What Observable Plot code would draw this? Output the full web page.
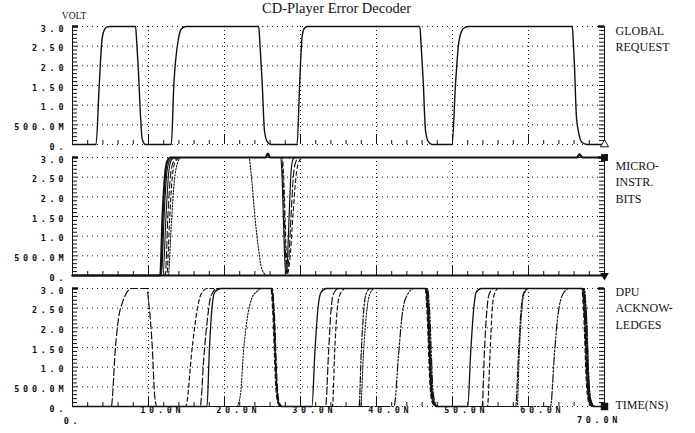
<!DOCTYPE html>
<html><head><meta charset="utf-8">
<script src="https://cdn.jsdelivr.net/npm/d3@7"></script>
<script src="https://cdn.jsdelivr.net/npm/@observablehq/plot@0.6"></script>
<style>
body{margin:0;background:#fff;}
#chart svg{display:block;}
</style></head><body><div id="chart"></div>
<script>
// ---- categories / labels ----
const panels = ["GR", "MI", "DPU"];
const panelLabels = ["GLOBAL\nREQUEST", "MICRO-\nINSTR.\nBITS", "DPU\nACKNOW-\nLEDGES"];
const titleText = "CD-Player Error Decoder";
const yUnit = "VOLT";
const xUnit = "TIME(NS)";
const yTicks = [0, 0.5, 1, 1.5, 2, 2.5, 3];
const yTickLabels = ["0.", "500.0M", "1.0", "1.50", "2.0", "2.50", "3.0"];
const xGridTicks = [10, 20, 30, 40, 50, 60];
const xTickLabels = ["10.0N", "20.0N", "30.0N", "40.0N", "50.0N", "60.0N"];
const xEndTicks = [0, 70];
const xEndLabels = ["0.", "70.0N"];

// ---- series: [time ns, volts] ----
const globalRequest = [[0,0],[3.1,0],[3.5,1.45],[3.9,2.7],[4.2,2.92],[4.6,2.99],[5.0,3.0],[8.3,3.0],[8.45,2.6],[8.65,1.95],[8.95,0.72],[9.17,0.14],[9.6,0],[13.0,0],[13.33,1.5],[13.95,2.7],[14.3,2.93],[14.9,3.0],[24.5,3.0],[24.65,2.6],[24.95,1.6],[25.26,0.35],[25.6,0.08],[26.1,0],[29.55,0],[29.9,1.6],[30.22,2.75],[30.5,2.95],[30.9,3.0],[45.7,3.0],[45.85,2.6],[46.15,1.6],[46.45,0.35],[46.8,0.08],[47.3,0],[49.95,0],[50.4,1.55],[50.8,2.55],[51.2,2.88],[51.6,2.97],[52.1,3.0],[65.75,3.0],[65.9,2.6],[66.05,2.0],[66.3,0.72],[66.6,0.3],[67.05,0.05],[67.7,0],[70,0]];

const microLow = [[0,0],[70,0]];
const micro1 = [[0,0],[11.55,0],[11.85,1.5],[12.2,2.6],[12.5,2.92],[12.9,3.0],[25.4,3.0],[25.7,3.1],[26.0,3.0],[66.4,3.0],[66.7,3.08],[67.1,3.0],[70,3.0]];
const micro2 = [[0,0],[11.7,0],[12.05,1.5],[12.4,2.6],[12.8,2.93],[13.3,3.0],[27.4,3.0],[27.6,2.4],[27.85,0.8],[28.05,0.05],[28.25,0.3],[28.5,1.5],[28.75,2.6],[29.0,2.95],[29.3,3.0],[70,3.0]];
const micro3 = [[0,0],[12.2,0],[12.55,1.5],[12.9,2.55],[13.3,2.9],[13.9,3.0],[27.5,3.0],[27.75,2.2],[28.0,0.7],[28.2,0.05],[28.45,0.4],[28.75,1.5],[29.05,2.5],[29.4,2.9],[29.8,3.0],[70,3.0]];
const micro4 = [[0,0],[12.4,0],[12.8,1.5],[13.15,2.55],[13.55,2.9],[14.1,3.0],[27.6,3.0],[27.85,2.2],[28.1,0.7],[28.3,0.05],[28.6,0.4],[29.0,1.5],[29.4,2.5],[29.8,2.9],[30.3,3.0],[70,3.0]];
const micro5 = [[0,0],[12.6,0],[13.0,1.3],[13.4,2.4],[13.8,2.85],[14.3,3.0],[23.2,3.0],[23.6,2.4],[24.0,1.5],[24.5,0.65],[24.9,0.17],[25.6,0],[70,0]];
const micro6 = [[0,0],[11.9,0],[12.3,1.5],[12.65,2.6],[13.0,2.93],[13.5,3.0],[70,3.0]];

const dpu1 = [[0,0],[17.7,0],[18.0,1.4],[18.35,2.5],[18.7,2.9],[19.5,3.0],[26.2,3.0],[26.45,2.4],[26.85,0.5],[27.1,0.1],[27.5,0],[31.5,0],[31.9,1.4],[32.3,2.5],[32.7,2.9],[33.4,3.0],[46.5,3.0],[46.75,2.4],[47.15,0.5],[47.45,0.1],[47.9,0],[52.0,0],[52.4,1.4],[52.8,2.5],[53.1,2.9],[53.8,3.0],[67.1,3.0],[67.35,2.4],[67.75,0.5],[68.05,0.1],[68.5,0],[70,0]];
const dpu2 = [[0,0],[5.1,0],[5.65,1.5],[6.1,2.3],[6.5,2.6],[7.0,2.85],[7.8,3.0],[9.8,3.0],[10.0,2.7],[10.5,1.5],[10.8,0.3],[11.1,0],[16.8,0],[17.3,1.3],[17.8,2.3],[18.2,2.8],[19.0,3.0],[26.3,3.0],[26.55,2.4],[26.95,0.5],[27.2,0.1],[27.6,0],[33.3,0],[33.7,1.4],[34.0,2.4],[34.3,2.85],[35.0,3.0],[46.6,3.0],[46.85,2.4],[47.25,0.5],[47.55,0.1],[48.0,0],[53.9,0],[54.2,1.4],[54.5,2.4],[54.8,2.85],[55.4,3.0],[67.2,3.0],[67.45,2.4],[67.85,0.5],[68.15,0.1],[68.6,0],[70,0]];
const dpu3 = [[0,0],[14.9,0],[15.75,1.5],[16.4,2.45],[16.9,2.85],[17.7,3.0],[26.1,3.0],[26.35,2.4],[26.75,0.5],[27.0,0.1],[27.4,0],[34.2,0],[34.5,1.4],[34.8,2.4],[35.2,2.85],[35.9,3.0],[46.4,3.0],[46.65,2.4],[47.05,0.5],[47.35,0.1],[47.8,0],[54.6,0],[54.95,1.4],[55.2,2.4],[55.5,2.85],[56.0,3.0],[67.0,3.0],[67.25,2.4],[67.65,0.5],[67.95,0.1],[68.4,0],[70,0]];
const dpu4 = [[0,0],[37.7,0],[38.0,1.4],[38.3,2.4],[38.6,2.85],[39.2,3.0],[46.5,3.0],[46.8,2.4],[47.2,0.5],[47.5,0.1],[47.9,0],[58.3,0],[58.7,1.4],[59.0,2.4],[59.3,2.85],[59.9,3.0],[67.2,3.0],[67.5,2.4],[67.9,0.5],[68.2,0.1],[68.6,0],[70,0]];
const dpu5 = [[0,0],[21.6,0],[22.1,0.3],[22.5,1.4],[23.0,2.25],[23.6,2.75],[24.3,2.93],[25.0,3.0],[26.2,3.0],[26.5,2.4],[26.9,0.5],[27.15,0.1],[27.5,0],[37.9,0],[38.3,1.4],[38.7,2.4],[39.1,2.85],[39.7,3.0],[46.6,3.0],[46.9,2.4],[47.3,0.5],[47.6,0.1],[48.0,0],[58.5,0],[58.8,1.4],[59.1,2.4],[59.4,2.85],[60.0,3.0],[67.3,3.0],[67.6,2.4],[68.0,0.5],[68.3,0.1],[68.7,0],[70,0]];
const dpu6 = [[0,0],[42.3,0],[42.9,1.3],[43.3,2.2],[43.6,2.6],[44.1,2.85],[44.9,3.0],[46.7,3.0],[47.0,2.4],[47.4,0.5],[47.7,0.1],[48.1,0],[62.9,0],[63.4,1.3],[63.8,2.2],[64.1,2.6],[64.5,2.85],[65.3,3.0],[67.3,3.0],[67.6,2.4],[68.0,0.5],[68.3,0.1],[68.8,0],[70,0]];

// end-of-trace markers
const markerPanels = ["GR", "MI", "MI", "DPU"];
const markerTimes = [70, 70, 70, 70];
const markerVolts = [0, 3, 0, 0];

// ---- styles (separate from data) ----
const DASH = {solid: null, long: "7,3", short: "4,3", dashdot: "6,2,1.5,2", dot: "1.5,1.6", dashdotdot: "8,2,1.5,2,1.5,2"};
const traces = [
  {panel: "GR", pts: globalRequest, dash: DASH.solid, w: 1.4},
  {panel: "MI", pts: microLow, dash: DASH.solid, w: 2},
  {panel: "MI", pts: micro5, dash: DASH.dot, w: 1.1},
  {panel: "MI", pts: micro4, dash: DASH.short, w: 1.1},
  {panel: "MI", pts: micro3, dash: DASH.long, w: 1.1},
  {panel: "MI", pts: micro6, dash: DASH.solid, w: 1.1},
  {panel: "MI", pts: micro2, dash: DASH.solid, w: 1.2},
  {panel: "MI", pts: micro1, dash: DASH.solid, w: 2.2},
  {panel: "DPU", pts: dpu1, dash: DASH.solid, w: 1.3},
  {panel: "DPU", pts: dpu2, dash: DASH.long, w: 1.2},
  {panel: "DPU", pts: dpu3, dash: DASH.short, w: 1.2},
  {panel: "DPU", pts: dpu4, dash: DASH.dashdot, w: 1.2},
  {panel: "DPU", pts: dpu5, dash: DASH.dot, w: 1.1},
  {panel: "DPU", pts: dpu6, dash: DASH.dashdotdot, w: 1.2}
];

const yMinor = d3.range(0, 31).map(i => i / 10);
const xMinor = d3.range(2, 70, 2).filter(v => v % 10 !== 0);
const INK = "#111";
const MONO = "DejaVu Sans Mono";
const SERIF = "Liberation Serif";
const LS = 3.7;          // letter spacing of the plotter-style tick labels
const FRAME_W = 695 - 72 - 91;
const TICK = 5;

const marks = [
  // grid
  Plot.ruleY(yTicks, {y: d => d, stroke: INK, strokeDasharray: "1,4"}),
  Plot.ruleX(xGridTicks, {x: d => d, stroke: INK, strokeDasharray: "1,3"}),
  // side axis lines
  Plot.ruleX(xEndTicks, {x: d => d, stroke: INK, strokeWidth: 1}),
  // x ticks along the 0 V line of each panel
  Plot.ruleX(xMinor, {x: d => d, stroke: INK, insetTop: 114}),
  Plot.ruleX(xGridTicks, {x: d => d, stroke: INK, insetTop: 109}),
  // y ticks, inward on both sides (ruler comb)
  Plot.ruleY(yMinor, {y: d => d, stroke: INK, strokeWidth: 1, insetRight: FRAME_W - TICK}),
  Plot.ruleY(yMinor, {y: d => d, stroke: INK, strokeWidth: 1, insetLeft: FRAME_W - TICK}),
  Plot.ruleY([3], {y: d => d, stroke: INK, strokeWidth: 2.5, insetRight: FRAME_W - 6}),
  Plot.ruleY([3], {y: d => d, stroke: INK, strokeWidth: 2.5, insetLeft: FRAME_W - 6}),
  // y tick labels
  Plot.text(yTicks, {y: d => d, text: (d, i) => yTickLabels[i], frameAnchor: "left", textAnchor: "end",
    dx: -9 + LS, dy: 2.5, fontFamily: MONO, fontSize: 8.5, fontWeight: "bold", fill: INK, ariaLabel: () => "tick-label"}),
];

for (const tr of traces) {
  marks.push(Plot.line(tr.pts, {x: d => d[0], y: d => d[1], fy: () => tr.panel, stroke: INK,
    strokeWidth: tr.w, strokeDasharray: tr.dash, curve: "monotone-x"}));
}

// markers
marks.push(
  Plot.dot([0], {x: i => markerTimes[i], y: i => markerVolts[i], fy: i => markerPanels[i], symbol: "triangle", r: 3, stroke: INK, fill: "white", strokeWidth: 1}),
  Plot.dot([1], {x: i => markerTimes[i], y: i => markerVolts[i], fy: i => markerPanels[i], symbol: "square", r: 3.9, fill: INK, stroke: "none"}),
  Plot.dot([2], {x: i => markerTimes[i], y: i => markerVolts[i], fy: i => markerPanels[i], symbol: "triangle", r: 3.2, rotate: 180, fill: INK, stroke: "none"}),
  Plot.dot([3], {x: i => markerTimes[i], y: i => markerVolts[i], fy: i => markerPanels[i], symbol: "square", r: 4.2, fill: INK, stroke: "none"})
);

// x tick labels (bottom panel only)
marks.push(
  Plot.text(xGridTicks, {x: d => d, fy: () => "DPU", text: (d, i) => xTickLabels[i], frameAnchor: "bottom",
    dx: 12 + LS / 2, dy: 6, fontFamily: MONO, fontSize: 8.5, fontWeight: "bold", fill: INK, ariaLabel: () => "tick-label"}),
  Plot.text([xEndTicks[0]], {x: d => d, fy: () => "DPU", text: () => xEndLabels[0], frameAnchor: "bottom",
    dx: 0, dy: 17, fontFamily: MONO, fontSize: 8.5, fontWeight: "bold", fill: INK, ariaLabel: () => "tick-label"}),
  Plot.text([xEndTicks[1]], {x: d => d, fy: () => "DPU", text: () => xEndLabels[1], frameAnchor: "bottom",
    dx: -5.5, dy: 16, fontFamily: MONO, fontSize: 8.5, fontWeight: "bold", fill: INK, ariaLabel: () => "tick-label"})
);

// right-hand panel labels
const labelDy = {GR: 24.7, MI: 45.3, DPU: 40.3};
const labelLH = {GR: 1.31, MI: 1.36, DPU: 1.38};
panels.forEach((p, i) => {
  marks.push(Plot.text([panelLabels[i]], {fy: () => p, text: d => d, frameAnchor: "top-right", textAnchor: "start",
    lineAnchor: "bottom", lineHeight: labelLH[p], dx: 11, dy: labelDy[p], fontFamily: SERIF, fontSize: 12, fill: INK}));
});
marks.push(
  Plot.text([xUnit], {fy: () => "DPU", text: d => d, frameAnchor: "bottom-right", textAnchor: "start",
    lineAnchor: "bottom", dx: 11, dy: 2.5, fontFamily: SERIF, fontSize: 12, fill: INK}),
  Plot.text([yUnit], {fy: () => "GR", text: d => d, frameAnchor: "top-left", textAnchor: "middle",
    lineAnchor: "bottom", dx: 1.5, dy: -7.7, fontFamily: SERIF, fontSize: 9.5, fill: INK}),
  Plot.text([titleText], {fy: () => "GR", text: d => d, frameAnchor: "top", textAnchor: "middle",
    lineAnchor: "bottom", dx: -2, dy: -14, fontFamily: SERIF, fontSize: 14.5, fill: INK})
);

const chart = Plot.plot({
  width: 695,
  height: 433,
  marginLeft: 72,
  marginRight: 91,
  marginTop: 26,
  marginBottom: 27,
  x: {domain: [0, 70], axis: null},
  y: {domain: [0, 3], axis: null},
  fy: {domain: panels, axis: null, paddingInner: 13 / 131, paddingOuter: 0, round: false},
  style: {background: "#fff", color: INK, fontFamily: SERIF, overflow: "visible"},
  marks
});
// plotter-style wide letter spacing for the tick labels
d3.select(chart).selectAll('text[aria-label="tick-label"]').style("letter-spacing", LS + "px");
document.getElementById("chart").appendChild(chart);
</script>
</body></html>
